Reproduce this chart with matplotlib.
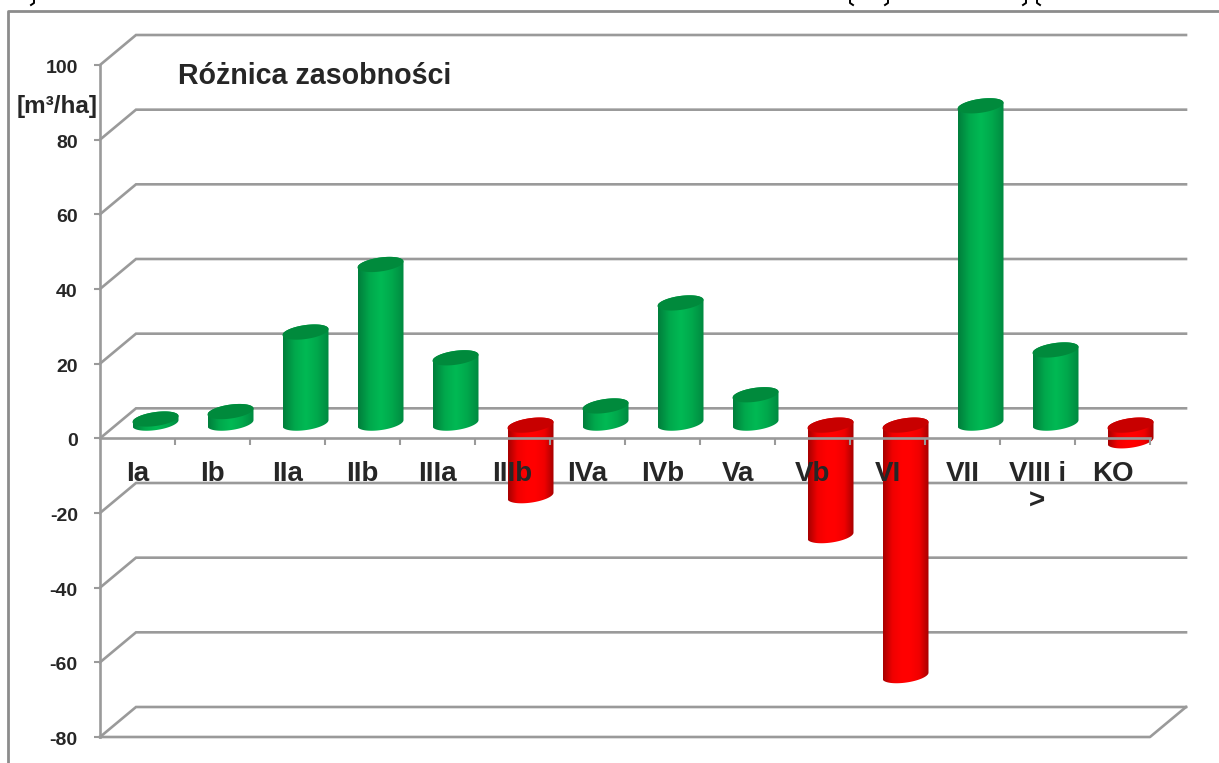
import numpy as np
import matplotlib
matplotlib.use("Agg")
import matplotlib.pyplot as plt
from matplotlib.colors import LinearSegmentedColormap
from matplotlib.patches import Polygon
from matplotlib.transforms import ScaledTranslation

# values
categories = ["Ia", "Ib", "IIa", "IIb", "IIIa", "IIIb", "IVa", "IVb", "Va", "Vb", "VI", "VII", "VIII i\n>", "KO"]
values = [1.1, 3.1, 24.4, 42.5, 17.5, -18.9, 4.6, 32.2, 7.6, -29.6, -67.1, 85.0, 19.6, -4.2]
y_ticks = [-80, -60, -40, -20, 0, 20, 40, 60, 80, 100]

W, H = 1219, 763
plt.rcParams["font.family"] = ["Liberation Sans", "DejaVu Sans"]
grey = "#9a9a9a"
text_col = "#262626"

fig = plt.figure(figsize=(W / 100, H / 100), dpi=100)
# axes is the front plane of the 3d box
ax = fig.add_axes([100 / W, 1 - 737 / H, 1050 / W, 672 / H])
ax.set_xlim(0, len(categories))
ax.set_ylim(-80, 100)

px_x = 1050 / len(categories)
px_y = 672 / 180
depth_x = 36 / px_x
depth_y = 30 / px_y

# back wall and side wall
for v in y_ticks:
    ax.plot([0, depth_x, len(categories) + depth_x], [v, v + depth_y, v + depth_y],
            color=grey, lw=1.9, zorder=0.5, clip_on=False, solid_joinstyle="miter")
# floor
ax.plot([0, len(categories), len(categories) + depth_x], [-80, -80, -80 + depth_y],
        color=grey, lw=1.9, zorder=0.5, clip_on=False)

green_map = LinearSegmentedColormap.from_list("g", ["#007f3c", "#00a84c", "#00ba54", "#00a84c", "#008a40"])
red_map = LinearSegmentedColormap.from_list("r", ["#a80000", "#f00000", "#ff0000", "#ff0000", "#f00000", "#a80000"])
grad = np.linspace(0, 1, 64).reshape(1, -1)

half_w = 23 / px_x
ell_b = 7 / px_y
ell_s = 3 / px_y
base_up = 15.2 / px_y
base_down = 13.2 / px_y
t1 = np.linspace(np.pi, 2 * np.pi, 40)
t2 = np.linspace(0, np.pi, 40)
t3 = np.linspace(0, 2 * np.pi, 80)

for i, v in enumerate(values):
    xc = i + 0.5 + depth_x / 2
    if v > 0:
        hi, lo = base_up + v, base_up
    else:
        hi, lo = base_down, base_down + v
    xs = np.concatenate([xc + half_w * np.cos(t1), xc + half_w * np.cos(t2)])
    ys = np.concatenate([lo + ell_b * np.sin(t1) + ell_s * np.cos(t1),
                         hi + ell_b * np.sin(t2) + ell_s * np.cos(t2)])
    body = Polygon(np.column_stack([xs, ys]), closed=True, facecolor="none", edgecolor="none", zorder=1.2)
    ax.add_patch(body)
    im = ax.imshow(grad, cmap=green_map if v > 0 else red_map, aspect="auto", zorder=1.2,
                   extent=[xc - half_w, xc + half_w, lo - 4, hi + 4], interpolation="bilinear")
    im.set_clip_box(fig.bbox)
    im.set_clip_path(body)
    top = Polygon(np.column_stack([xc + half_w * np.cos(t3), hi + ell_b * np.sin(t3) + ell_s * np.cos(t3)]),
                  closed=True, facecolor="#008a3c" if v > 0 else "#c80000", edgecolor="none", zorder=1.3,
                  clip_on=False)
    ax.add_patch(top)

ax.set_xlim(0, len(categories))
ax.set_ylim(-80, 100)

for s in ["top", "right"]:
    ax.spines[s].set_visible(False)
ax.spines["bottom"].set_position(("data", 0))
ax.spines["bottom"].set_color(grey)
ax.spines["bottom"].set_linewidth(1.9)
ax.spines["left"].set_color(grey)
ax.spines["left"].set_linewidth(1.9)

ax.set_yticks(y_ticks)
ax.set_yticklabels([str(v) for v in y_ticks], fontsize=14, fontweight="bold", color=text_col)
ax.tick_params(axis="y", length=4.5, width=1.5, color=grey, pad=11.5)
# labels sit a little below their ticks in the original
shift = ScaledTranslation(0, -1.5 / 100, fig.dpi_scale_trans)
for lab in ax.get_yticklabels():
    lab.set_transform(lab.get_transform() + shift)

ax.set_xticks(range(1, len(categories) + 1))
ax.set_xticklabels([])
ax.set_xticks(np.arange(len(categories)) + 0.5, minor=True)
ax.set_xticklabels(categories, minor=True, fontsize=20, fontweight="bold", color=text_col,
                   va="top", linespacing=1.1)
ax.tick_params(axis="x", which="major", length=5, width=1.5, color=grey)
ax.tick_params(axis="x", which="minor", length=0, pad=16)

fig.text(178 / W, 1 - 76 / H, "Różnica zasobności", fontsize=20.6, fontweight="bold", color=text_col, va="center")
fig.text(57.5 / W, 1 - 106 / H, "[m³/ha]", fontsize=17.5, fontweight="bold", color=text_col, ha="center", va="center")

# outer frame of the pasted picture
fig.add_artist(plt.Line2D([8 / W, 8 / W, 1], [0, 1 - 11 / H, 1 - 11 / H], color="#8c8c8c", lw=2))

# bottoms of the letters cut off by the top edge of the picture
for x, d in [(34, -1), (888, -1), (1026, -1), (850, 1), (1037, 1)]:
    fig.add_artist(plt.Line2D([x / W, x / W, (x + d * 3) / W], [1, 1 - 3 / H, 1 - 5 / H], color="black", lw=1.4))

fig.savefig("out.png", dpi=100)
